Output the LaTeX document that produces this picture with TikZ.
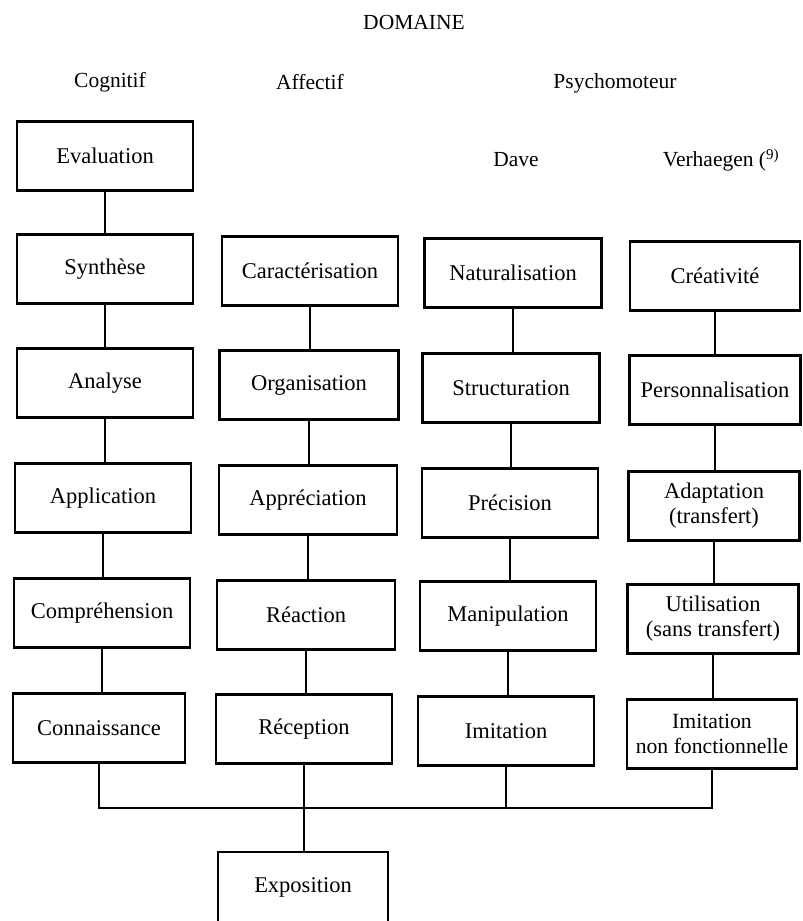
\documentclass[tikz,border=0pt]{standalone}
\usepackage{fontspec}
\setmainfont{Liberation Serif}
\begin{document}
\begin{tikzpicture}[x=1pt,y=-1pt,
  level/.style={draw, line width=2.6pt, minimum width=176pt, minimum height=69pt,
    inner sep=0pt, align=center, font=\fontsize{22.5}{25}\selectfont},
  head/.style={inner sep=0pt, font=\fontsize{21.5}{24}\selectfont},
  link/.style={line width=1.7pt}]
\useasboundingbox (0,0) rectangle (803,921);

% titles
\node[head] (dom) at (414,22) {DOMAINE};
\node[head] (cog) at (110,82) {Cognitif};
\node[head] (aff) at (310,82) {Affectif};
\node[head] (psy) at (615,83) {Psychomoteur};
\node[head] (dave) at (516,160) {Dave};
\node[head] (verh) at (721,160) {Verhaegen (\textsuperscript{9)}};

% cognitive column
\node[level] (c6) at (105,156) {Evaluation};
\node[level] (c5) at (105,269) {Synthèse};
\node[level] (c4) at (105,383) {Analyse};
\node[level] (c3) at (103,498) {Application};
\node[level] (c2) at (102,613) {Compréhension};
\node[level, minimum width=172pt] (c1) at (99,728) {Connaissance};

% affective column
\node[level, minimum width=176pt] (a5) at (310,271) {Caractérisation};
\node[level, minimum width=179pt] (a4) at (309,385) {Organisation};
\node[level, minimum width=178pt] (a3) at (308,500) {Appréciation};
\node[level, minimum width=178pt] (a2) at (306,615) {Réaction};
\node[level] (a1) at (304,729) {Réception};

% psychomotor column (Dave)
\node[level, minimum width=177pt] (d5) at (513,273) {Naturalisation};
\node[level, minimum width=177pt] (d4) at (511,388) {Structuration};
\node[level] (d3) at (510,503) {Précision};
\node[level] (d2) at (508,616) {Manipulation};
\node[level] (d1) at (506,731) {Imitation};

% psychomotor column (Verhaegen)
\node[level, minimum width=170pt] (v5) at (715,276) {Créativité};
\node[level, minimum width=171pt] (v4) at (715,390) {Personnalisation};
\node[level, minimum width=171pt] (v3) at (714,506) {Adaptation\\(transfert)};
\node[level, minimum width=171pt] (v2) at (713,619) {Utilisation\\(sans transfert)};
\node[level, minimum width=170pt, font=\fontsize{21.7}{25}\selectfont] (v1) at (712,734) {Imitation\\non fonctionnelle};

% common base
\node[level, minimum width=170pt, minimum height=70pt] (expo) at (303,887) {Exposition};

% vertical links inside each column
\foreach \u/\l in {c6/c5,c5/c4,c4/c3,c3/c2,c2/c1,
                   a5/a4,a4/a3,a3/a2,a2/a1,
                   d5/d4,d4/d3,d3/d2,d2/d1,
                   v5/v4,v4/v3,v3/v2,v2/v1}
  \draw[link] (\u.south) -- (\u.south |- \l.north);

% joining bar down to the base level
\coordinate (bl) at (c1.south |- 0,808);
\coordinate (br) at (v1.south |- 0,808);
\draw[link] (c1.south) -- (bl) -- (br) -- (v1.south);
\draw[link] (d1.south) -- (d1.south |- bl);
\draw[link] (a1.south) -- (a1.south |- expo.north);
\end{tikzpicture}
\end{document}
